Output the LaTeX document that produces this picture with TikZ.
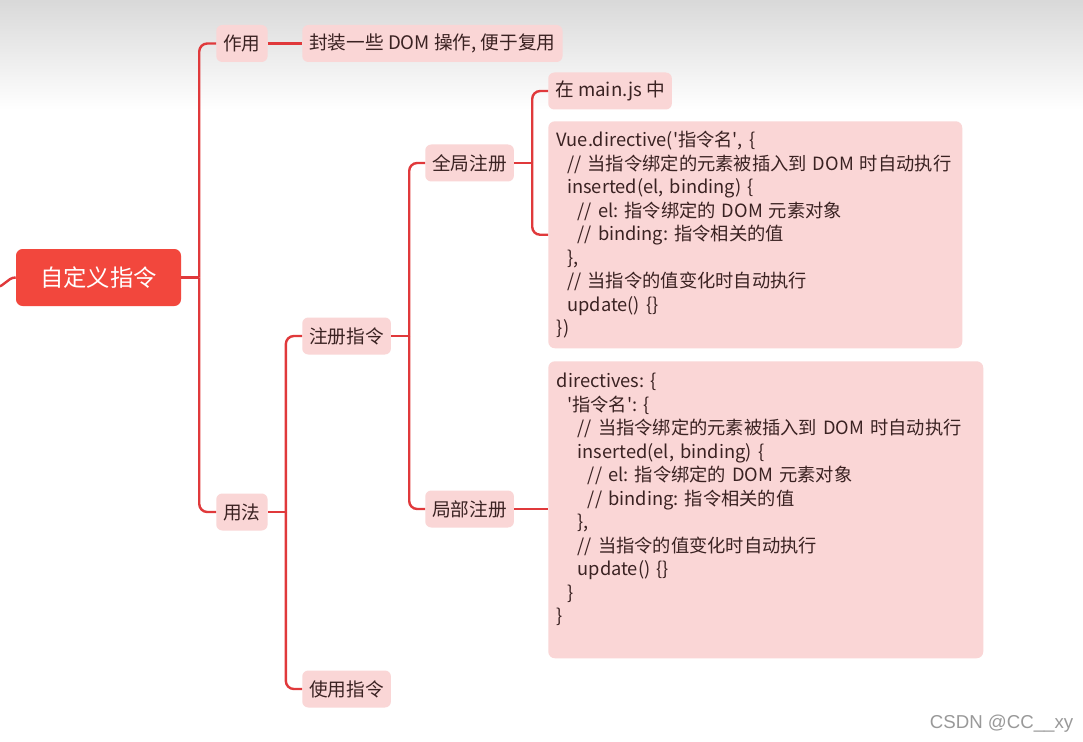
\documentclass[tikz,border=0pt]{standalone}
\usepackage{fontspec}
\newfontfamily\cjk{Noto Sans CJK SC}
\newfontfamily\markfont{Liberation Sans}
\usetikzlibrary{calc, positioning}
\definecolor{linkred}{HTML}{E0393B}
\definecolor{nodepink}{HTML}{FAD6D6}
\definecolor{rootred}{HTML}{F2473D}
\definecolor{inkdark}{HTML}{3A2222}
\newcommand{\ci}{\hspace*{7.75pt}}

\begin{document}
\begin{tikzpicture}[x=0.75pt, y=-0.75pt,
  root/.style={fill=rootred, text=white, rounded corners=5pt,
               font=\cjk\fontsize{17.5}{20}\selectfont,
               minimum width=123.75pt, minimum height=42.75pt},
  topic/.style={fill=nodepink, text=inkdark, rounded corners=4.5pt,
                font=\cjk\fontsize{14}{17}\selectfont\frenchspacing,
                inner xsep=5.25pt, minimum height=27.75pt, anchor=west},
  code/.style={fill=nodepink, text=inkdark, rounded corners=5pt,
               font=\cjk\fontsize{13.7}{17.6}\selectfont\frenchspacing, align=left,
               anchor=north west, inner xsep=6.5pt, inner ysep=0pt},
  link/.style={draw=linkred, line width=1.8pt, rounded corners=6pt},
  wmark/.style={font=\markfont\fontsize{14}{16}\selectfont, text=black!40},
]

% ---- Background ------------------------------------------------------------
\fill[white] (0,0) rectangle (1083,742);
\shade[top color=black!15, bottom color=white] (0,0) rectangle (1083,110);
\useasboundingbox (0,0) rectangle (1083,742);

% ---- Root and first level --------------------------------------------------
\node[root] (root) at (98.5,277.5) {自定义指令};
\node[topic] (zuoyong) at (216,43.5) {作用};
\node[topic] (desc) at (302,43.5) {封装一些 DOM 操作, 便于复用};
\node[topic] (yongfa) at (216,512) {用法};

% ---- Usage branch ----------------------------------------------------------
\node[topic] (zhuce) at (302,336) {注册指令};
\node[topic] (shiyong) at (302,689) {使用指令};
\node[topic] (quanju) at (425,163) {全局注册};
\node[topic] (jubu) at (425,509) {局部注册};
\node[topic] (mainjs) at (548,91) {在 main.js 中};

% ---- Code boxes ------------------------------------------------------------
\node[code, text width=297.5pt, minimum height=170.25pt] (globalcode) at (548,121)
  {Vue.directive(\textquotesingle 指令名\textquotesingle, \{\\
   \mbox{\ci// 当指令绑定的元素被插入到 DOM 时自动执行}\\
   \ci inserted(el, binding) \{\\
   \ci\ci// el: 指令绑定的 DOM 元素对象\\
   \ci\ci// binding: 指令相关的值\\
   \ci\},\\
   \ci// 当指令的值变化时自动执行\\
   \ci update() \{\}\\
   \})};

\node[code, text width=313.25pt, minimum height=222.75pt] (localcode) at (548,361)
  {directives: \{\\
   \ci\textquotesingle 指令名\textquotesingle: \{\\
   \mbox{\ci\ci// 当指令绑定的元素被插入到 DOM 时自动执行}\\
   \ci\ci inserted(el, binding) \{\\
   \ci\ci\ci// el: 指令绑定的 DOM 元素对象\\
   \ci\ci\ci// binding: 指令相关的值\\
   \ci\ci\},\\
   \ci\ci// 当指令的值变化时自动执行\\
   \ci\ci update() \{\}\\
   \ci\}\\
   \}\\
   \mbox{}};

% ---- Connectors ------------------------------------------------------------
\coordinate (rootIn) at (-4,287);
\draw[link] (rootIn) to[out=0, in=180] (root.west);
\draw[link] (root.east) -- ++(18,0) coordinate (j1);
\draw[link] (j1) |- (zuoyong.west);
\draw[link] (j1) |- (yongfa.west);
\draw[link] (zuoyong.east) -- (desc.west);
\draw[link] (yongfa.east) -- ++(18,0) coordinate (j2);
\draw[link] (j2) |- (zhuce.west);
\draw[link] (j2) |- (shiyong.west);
\draw[link] (zhuce.east) -- ++(18,0) coordinate (j3);
\draw[link] (j3) |- (quanju.west);
\draw[link] (j3) |- (jubu.west);
\draw[link] (quanju.east) -- ++(18,0) coordinate (j4);
\draw[link] (j4) |- (mainjs.west);
\draw[link] (j4) |- (globalcode.west);
\draw[link] (jubu.east) -- (jubu.east -| localcode.west);

% ---- Watermark -------------------------------------------------------------
\node[wmark, anchor=east] (watermark) at (1078,724) {CSDN @CC\_\_xy};

\end{tikzpicture}
\end{document}
